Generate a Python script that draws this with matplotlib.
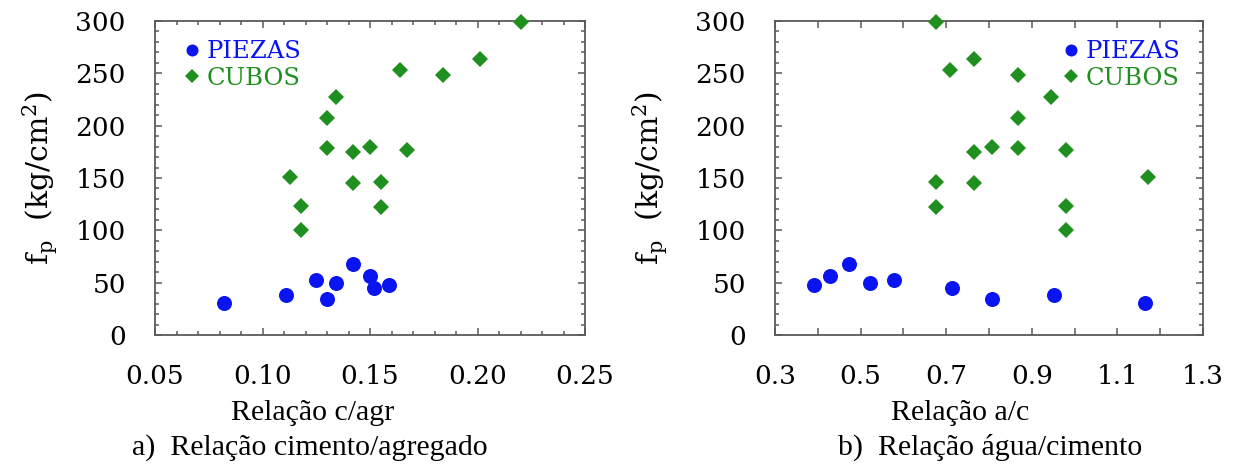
import numpy as np
import matplotlib
matplotlib.use('Agg')
import matplotlib.pyplot as plt
from matplotlib.ticker import MultipleLocator, FormatStrFormatter, FuncFormatter

# data
# a) cement/aggregate ratio
ca_piezas = [0.082, 0.111, 0.125, 0.130, 0.134, 0.142, 0.150, 0.152, 0.159]
fp_piezas = [31, 38, 53, 34, 50, 68, 56, 45, 48]
ca_cubos = [0.113, 0.118, 0.118, 0.130, 0.130, 0.134, 0.142, 0.142,
            0.150, 0.155, 0.155, 0.164, 0.167, 0.184, 0.201, 0.220]
fp_cubos = [151, 123, 100, 207, 179, 227, 175, 145,
            180, 146, 122, 253, 177, 248, 264, 299]

# b) water/cement ratio (same specimens)
ac_piezas = [1.165, 0.953, 0.578, 0.808, 0.522, 0.472, 0.429, 0.713, 0.392]
ac_cubos = [1.171, 0.981, 0.981, 0.867, 0.867, 0.946, 0.765, 0.765,
            0.807, 0.677, 0.677, 0.709, 0.981, 0.867, 0.765, 0.677]

series_names = ['PIEZAS', 'CUBOS']
xlabels = ['Relação c/agr', 'Relação a/c']
captions = ['a)  Relação cimento/agregado', 'b)  Relação água/cimento']

blue = '#0a14f0'
green = '#1f8f1f'
spine_col = '#5a5a5a'

plt.rcParams['mathtext.fontset'] = 'dejavuserif'

W, H = 1236, 466
fig = plt.figure(figsize=(W / 100, H / 100), dpi=100)

ax1 = fig.add_axes([155 / W, 1 - 335 / H, 430 / W, 314 / H])
ax2 = fig.add_axes([775 / W, 1 - 335 / H, 428 / W, 314 / H])

for ax, xp, xc in [(ax1, ca_piezas, ca_cubos), (ax2, ac_piezas, ac_cubos)]:
    ax.plot(xp, fp_piezas, 'o', color=blue, ms=10.8, mew=0,
            label=series_names[0], clip_on=False, zorder=3)
    ax.plot(xc, fp_cubos, 'D', color=green, ms=8.4, mew=0,
            label=series_names[1], clip_on=False, zorder=3)

    ax.set_ylim(0, 300)
    ax.yaxis.set_major_locator(MultipleLocator(50))
    ax.yaxis.set_minor_locator(MultipleLocator(10))

    for s in ax.spines.values():
        s.set_color(spine_col)
        s.set_linewidth(1.3)

    ax.tick_params(which='both', direction='in', top=True, right=True,
                   color=spine_col, width=1.1)
    ax.tick_params(which='major', length=5)
    ax.tick_params(which='minor', length=3)
    ax.tick_params(axis='x', which='major', pad=21, labelsize=19)
    ax.tick_params(axis='y', which='major', pad=21, labelsize=19)

# x axis of a)
ax1.set_xlim(0.05, 0.25)
ax1.xaxis.set_major_locator(MultipleLocator(0.05))
ax1.xaxis.set_minor_locator(MultipleLocator(0.01))
ax1.xaxis.set_major_formatter(FormatStrFormatter('%.2f'))

# x axis of b): ticks every 0.1, labels every 0.2
ax2.set_xlim(0.3, 1.3)
ax2.set_xticks(np.arange(0.3, 1.31, 0.1))
ax2.xaxis.set_major_formatter(FuncFormatter(
    lambda v, p: '%.1f' % v if p % 2 == 0 else ''))

for ax in (ax1, ax2):
    for lab in ax.get_xticklabels() + ax.get_yticklabels():
        lab.set_family('DejaVu Serif')

# legends
leg_kw = dict(frameon=False, handlelength=0.5,
              handletextpad=0.35, labelspacing=0.15, borderaxespad=0,
              markerscale=0.8, labelcolor='markerfacecolor',
              prop={'family': 'DejaVu Serif', 'size': 17.5})
ax1.legend(loc='upper left', bbox_to_anchor=(0.05, 0.97), **leg_kw)
ax2.legend(loc='upper right', bbox_to_anchor=(0.97, 0.97), **leg_kw)

# y labels
ylab = r'$\mathrm{f_p\ \ (kg/cm^2)}$'
fig.text(40 / W, 1 - 178 / H, ylab, rotation=90, ha='center', va='center',
         fontsize=21.5)
fig.text(650 / W, 1 - 178 / H, ylab, rotation=90, ha='center', va='center',
         fontsize=21.5)

# x labels and captions
fig.text(313 / W, 1 - 420 / H, xlabels[0], ha='center', va='baseline',
         family='Liberation Serif', fontsize=21.5)
fig.text(960 / W, 1 - 420 / H, xlabels[1], ha='center', va='baseline',
         family='Liberation Serif', fontsize=21.5)
fig.text(132 / W, 1 - 455 / H, captions[0], ha='left', va='baseline',
         family='Liberation Serif', fontsize=21.5)
fig.text(838 / W, 1 - 455 / H, captions[1], ha='left', va='baseline',
         family='Liberation Serif', fontsize=21.5)

fig.savefig('out.png', dpi=100)
